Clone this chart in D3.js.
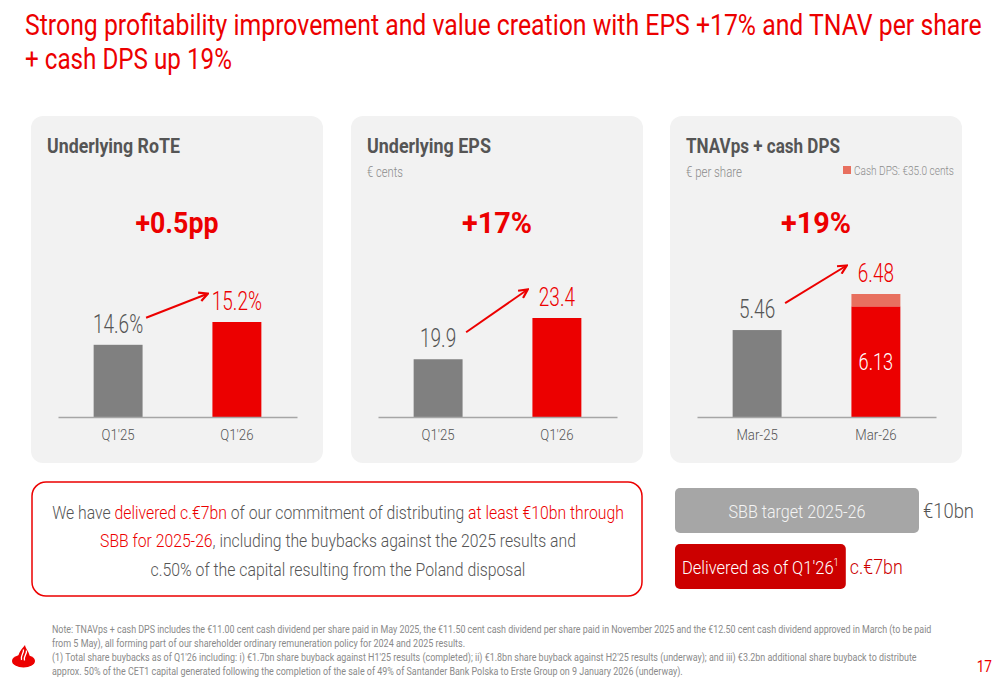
<!DOCTYPE html>
<html>
<head>
<meta charset="utf-8">
<script src="https://cdn.jsdelivr.net/npm/d3@7"></script>
<style>
body { margin: 0; background: #fff; }
text { font-family: Roboto, 'Open Sans', 'DejaVu Sans', sans-serif; }
</style>
</head>
<body>
<div id="chart"></div>
<script>
// values
var roteCategories = ["Q1'25", "Q1'26"];
var roteValues = [14.6, 15.2];
var epsCategories = ["Q1'25", "Q1'26"];
var epsValues = [19.9, 23.4];
var tnavCategories = ["Mar-25", "Mar-26"];
var tnavValues = [5.46, 6.13];
var dpsValues = [0, 0.35];
var sbbLabels = ["SBB target 2025-26", "Delivered as of Q1'26"];
var sbbValues = [10, 7];
var sbbValueLabels = ["€10bn", "c.€7bn"];

var titleLines = ["Strong profitability improvement and value creation with EPS +17% and TNAV per share",
    "+ cash DPS up 19%"];
var boxLines = [
    [["We have ", 0], ["delivered c.€7bn", 1], [" of our commitment of distributing ", 0], ["at least €10bn through", 1]],
    [["SBB for 2025-26", 1], [", including the buybacks against the 2025 results and", 0]],
    [["c.50% of the capital resulting from the Poland disposal", 0]]
];
var notes = [
    "Note: TNAVps + cash DPS includes the €11.00 cent cash dividend per share paid in May 2025, the €11.50 cent cash dividend per share paid in November 2025 and the €12.50 cent cash dividend approved in March (to be paid",
    "from 5 May), all forming part of our shareholder ordinary remuneration policy for 2024 and 2025 results.",
    "(1) Total share buybacks as of Q1'26 including: i) €1.7bn share buyback against H1'25 results (completed); ii) €1.8bn share buyback against H2'25 results (underway); and iii) €3.2bn additional share buyback to distribute",
    "approx. 50% of the CET1 capital generated following the completion of the sale of 49% of Santander Bank Polska to Erste Group on 9 January 2026 (underway)."
];

var red = "#ec0000", darkRed = "#cc0000", grey = "#808080", dpsColor = "#e8705f", textGrey = "#555555";

// squeeze a text horizontally round its anchor, the slide font is a narrow one
function fit(sel, target) {
    sel.each(function(d, i) {
        var t = typeof target === "function" ? target.call(this, d, i) : target;
        var k = t < 2 ? t : t / this.getComputedTextLength();
        var ax = +this.getAttribute("x") || 0;
        d3.select(this).attr("transform", "translate(" + ax + ",0) scale(" + k + ",1) translate(" + (-ax) + ",0)");
    });
    return sel;
}

var svg = d3.select("#chart").append("svg")
    .attr("width", 1000)
    .attr("height", 685);

svg.append("defs").append("marker")
    .attr("id", "arrow")
    .attr("viewBox", "0 0 10 10")
    .attr("refX", 8).attr("refY", 5)
    .attr("markerWidth", 11).attr("markerHeight", 11)
    .attr("markerUnits", "userSpaceOnUse")
    .attr("orient", "auto")
    .append("path")
    .attr("d", "M1,1 L9,5 L1,9")
    .attr("fill", "none")
    .attr("stroke", red)
    .attr("stroke-width", 2);

// title
svg.selectAll(".title")
    .data(titleLines)
    .enter().append("text")
    .attr("class", "title")
    .attr("x", 25)
    .attr("y", function(d, i) { return 35 + i * 34; })
    .style("font-size", "30px")
    .style("fill", red)
    .text(function(d) { return d; })
    .call(fit, function(d, i) { return [957, 207][i]; });

// three KPI panels
var panels = [
    { x: 31, title: "Underlying RoTE", titleW: 133, sub: null, change: "+0.5pp", changeW: 83,
      cats: roteCategories, vals: roteValues, extra: null,
      min: 12.7, top: 206, fmt: function(v) { return v.toFixed(1) + "%"; } },
    { x: 351, title: "Underlying EPS", titleW: 124, sub: "€ cents", subW: 36, change: "+17%", changeW: 70,
      cats: epsCategories, vals: epsValues, extra: null,
      min: 15, top: 202, fmt: function(v) { return v.toFixed(1); } },
    { x: 670, title: "TNAVps + cash DPS", titleW: 154, sub: "€ per share", subW: 56, change: "+19%", changeW: 70,
      cats: tnavCategories, vals: tnavValues, extra: dpsValues,
      min: 3, top: 178, fmt: function(v) { return v.toFixed(2); } }
];

var panelW = 292, panelH = 347, axisY = 301;

panels.forEach(function(p) {
    var g = svg.append("g").attr("transform", "translate(" + p.x + ",116)");

    g.append("rect")
        .attr("width", panelW).attr("height", panelH)
        .attr("rx", 12).attr("ry", 12)
        .style("fill", "#f2f2f2");

    g.append("text")
        .attr("x", 16).attr("y", 37)
        .style("font-size", "20px").style("font-weight", "bold")
        .style("fill", textGrey)
        .text(p.title)
        .call(fit, p.titleW);

    if (p.sub) {
        g.append("text")
            .attr("x", 16).attr("y", 61)
            .style("font-size", "14px").style("font-weight", 300)
            .style("fill", "#8c8c8c")
            .text(p.sub)
            .call(fit, p.subW);
    }

    g.append("text")
        .attr("x", panelW / 2).attr("y", 117)
        .style("text-anchor", "middle")
        .style("font-size", "29px").style("font-weight", "bold")
        .style("fill", red)
        .text(p.change)
        .call(fit, p.changeW);

    var totals = p.vals.map(function(v, i) { return v + (p.extra ? p.extra[i] : 0); });

    var x = d3.scaleBand()
        .domain(p.cats)
        .range([27, 266])
        .paddingInner(0.588)
        .paddingOuter(0.3);

    var y = d3.scaleLinear()
        .domain([p.min, d3.max(totals)])
        .range([axisY, p.top]);

    var bw = x.bandwidth();

    g.selectAll(".bar")
        .data(p.vals)
        .enter().append("rect")
        .attr("class", "bar")
        .attr("x", function(d, i) { return x(p.cats[i]); })
        .attr("y", function(d) { return y(d); })
        .attr("width", bw)
        .attr("height", function(d) { return y(p.min) - y(d); })
        .style("fill", function(d, i) { return i === 0 ? grey : red; });

    if (p.extra) {
        g.selectAll(".extra")
            .data(p.extra)
            .enter().append("rect")
            .attr("class", "extra")
            .attr("x", function(d, i) { return x(p.cats[i]); })
            .attr("y", function(d, i) { return y(p.vals[i] + d); })
            .attr("width", bw)
            .attr("height", function(d, i) { return y(p.vals[i]) - y(p.vals[i] + d); })
            .style("fill", dpsColor);

        // inner label for the stacked bar
        g.append("text")
            .attr("x", x(p.cats[1]) + bw / 2)
            .attr("y", (y(p.vals[1]) + y(p.min)) / 2 + 8)
            .style("text-anchor", "middle")
            .style("font-size", "24px").style("font-weight", 300)
            .style("fill", "#fff")
            .text(p.fmt(p.vals[1]))
            .call(fit, 0.76);

        g.append("rect")
            .attr("x", 173).attr("y", 50)
            .attr("width", 8).attr("height", 8)
            .style("fill", dpsColor);

        g.append("text")
            .attr("x", 184).attr("y", 59)
            .style("font-size", "13px").style("font-weight", 300)
            .style("fill", "#8c8c8c")
            .text("Cash DPS: €" + (p.extra[1] * 100).toFixed(1) + " cents")
            .call(fit, 100);
    }

    g.selectAll(".val")
        .data(totals)
        .enter().append("text")
        .attr("class", "val")
        .attr("x", function(d, i) { return x(p.cats[i]) + bw / 2; })
        .attr("y", function(d) { return y(d) - 12; })
        .style("text-anchor", "middle")
        .style("font-size", "25px").style("font-weight", 300)
        .style("fill", function(d, i) { return i === 0 ? textGrey : red; })
        .text(function(d) { return p.fmt(d); })
        .call(fit, 0.76);

    g.append("line")
        .attr("x1", x(p.cats[0]) + bw / 2 + 28)
        .attr("y1", y(totals[0]) - 27)
        .attr("x2", x(p.cats[1]) + bw / 2 - 30)
        .attr("y2", y(totals[1]) - 28)
        .attr("stroke", red)
        .attr("stroke-width", 2)
        .attr("marker-end", "url(#arrow)");

    var axis = g.append("g")
        .attr("transform", "translate(0," + axisY + ")")
        .call(d3.axisBottom(x).tickSize(0).tickSizeOuter(0));

    axis.attr("font-family", null).attr("font-size", null);
    axis.select(".domain").attr("stroke", "#a6a6a6").attr("stroke-width", 1.5);
    axis.selectAll(".tick text")
        .attr("y", 23).attr("dy", 0)
        .style("font-size", "15px").style("font-weight", 300)
        .style("fill", textGrey)
        .call(fit, 0.88);
});

// message box
svg.append("rect")
    .attr("x", 32).attr("y", 482)
    .attr("width", 610).attr("height", 114)
    .attr("rx", 14).attr("ry", 14)
    .style("fill", "#fff")
    .style("stroke", red)
    .style("stroke-width", 1.5);

svg.selectAll(".boxline")
    .data(boxLines)
    .enter().append("text")
    .attr("class", "boxline")
    .attr("x", 338)
    .attr("y", function(d, i) { return 519 + i * 28.5; })
    .style("text-anchor", "middle")
    .style("font-size", "19px").style("font-weight", 300)
    .call(function(t) {
        t.selectAll("tspan")
            .data(function(d) { return d; })
            .enter().append("tspan")
            .style("fill", function(d) { return d[1] ? red : textGrey; })
            .text(function(d) { return d[0]; });
    })
    .call(fit, function(d, i) { return [572, 476, 375][i]; });

// SBB bars
var sx = d3.scaleLinear().domain([0, 10]).range([0, 244]);
var sbbColors = ["#a6a6a6", darkRed];
var sbbValueColors = [textGrey, darkRed];

var sbb = svg.selectAll(".sbb")
    .data(sbbValues)
    .enter().append("g")
    .attr("class", "sbb")
    .attr("transform", function(d, i) { return "translate(675," + (488 + i * 56) + ")"; });

sbb.append("rect")
    .attr("width", function(d) { return sx(d); })
    .attr("height", 45)
    .attr("rx", 5).attr("ry", 5)
    .style("fill", function(d, i) { return sbbColors[i]; });

var sbbText = sbb.append("text")
    .attr("x", function(d) { return sx(d) / 2; })
    .attr("y", 30)
    .style("text-anchor", "middle")
    .style("font-size", "19px").style("font-weight", 300)
    .style("fill", function(d, i) { return i === 0 ? "#f4f4f4" : "#fff"; });

sbbText.append("tspan").text(function(d, i) { return sbbLabels[i]; });
sbbText.filter(function(d, i) { return i === 1; })
    .append("tspan")
    .attr("dy", -8)
    .style("font-size", "11px")
    .text("1");
sbbText.call(fit, function(d, i) { return [137, 157][i]; });

sbb.append("text")
    .attr("x", function(d) { return sx(d) + 4; })
    .attr("y", 30)
    .style("font-size", "21px").style("font-weight", 300)
    .style("fill", function(d, i) { return sbbValueColors[i]; })
    .text(function(d, i) { return sbbValueLabels[i]; })
    .call(fit, function(d, i) { return [51, 53][i]; });

// footnotes
svg.selectAll(".note")
    .data(notes)
    .enter().append("text")
    .attr("class", "note")
    .attr("x", 52)
    .attr("y", function(d, i) { return 633 + i * 14; })
    .style("font-size", "10.5px")
    .style("fill", "#8a8a8a")
    .text(function(d) { return d; })
    .call(fit, function(d, i) { return [881, 414, 865, 631][i]; });

svg.append("text")
    .attr("x", 992).attr("y", 672)
    .style("text-anchor", "end")
    .style("font-size", "16px")
    .style("fill", red)
    .text("17")
    .call(fit, 0.85);

// santander flame
var logo = svg.append("g").attr("transform", "translate(12,645)");
logo.append("ellipse")
    .attr("cx", 11.5).attr("cy", 16)
    .attr("rx", 11.5).attr("ry", 6.5)
    .style("fill", red);
logo.append("path")
    .attr("d", "M6.5,14 C5.5,8 10,4 13,0 C13.5,4 17.5,7 17.5,11 C17.5,14 15,16 12,16 C9,16 7,15.5 6.5,14 Z")
    .style("fill", red);
logo.append("path")
    .attr("d", "M9.5,15 C8,11 12,8.5 11.5,4.5 M12.5,15.5 C11,11.5 15,9.5 14.5,5.5")
    .style("fill", "none")
    .style("stroke", "#fff")
    .style("stroke-width", 1.3);
</script>
</body>
</html>
